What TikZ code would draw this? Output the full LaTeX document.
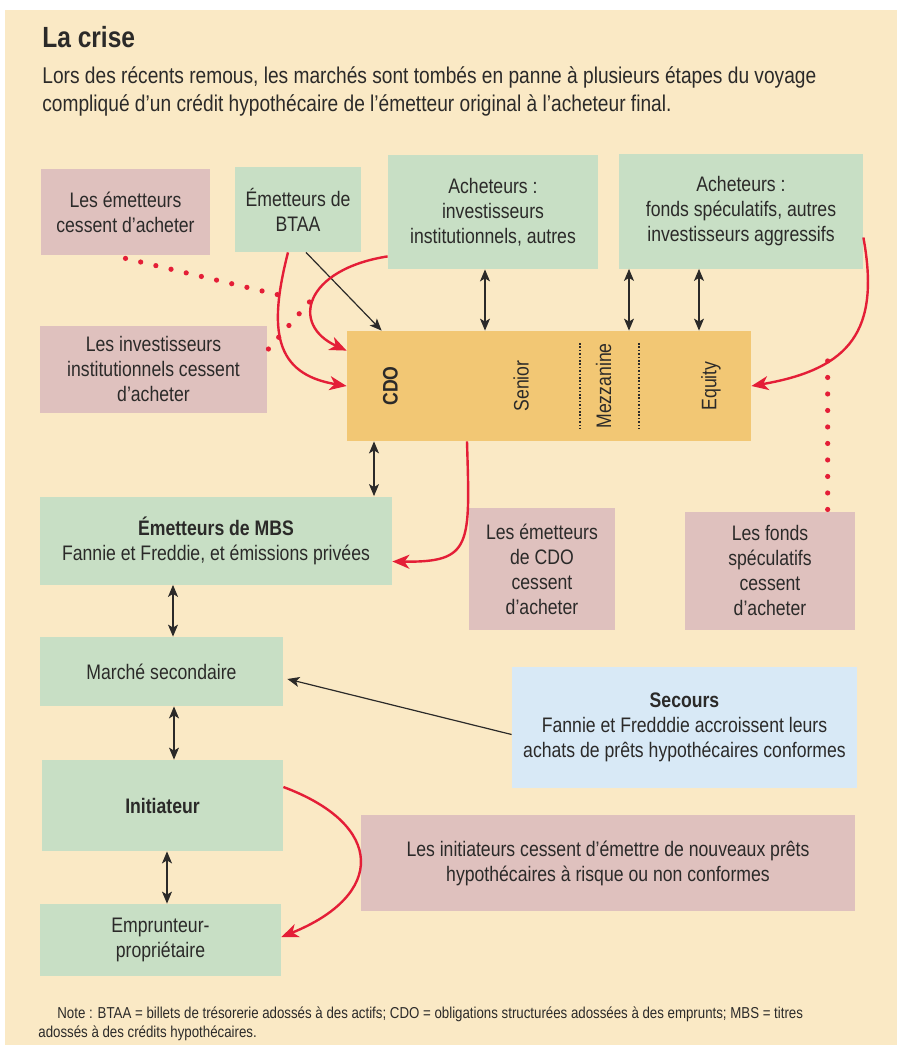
\documentclass[tikz,border=0pt]{standalone}
\usepackage{fontspec}
\setmainfont[FakeStretch=0.84]{Liberation Sans}
\usetikzlibrary{arrows.meta}

\begin{document}
\begin{tikzpicture}[x=0.5pt, y=-0.5pt,
  boite/.style={inner sep=0pt, align=center, text=colTexte,
    font=\fontsize{10.5}{12.5}\selectfont},
  vert/.style={boite, fill=colVert},
  rose/.style={boite, fill=colRose},
  fleche/.style={-{Stealth[length=6pt,width=5pt,inset=1.5pt]}, line width=0.6pt, draw=colTexte},
  doublefl/.style={{Stealth[length=6pt,width=5pt,inset=1.5pt]}-{Stealth[length=6pt,width=5pt,inset=1.5pt]},
    line width=0.6pt, draw=colTexte},
  rouge/.style={-{Stealth[length=8.5pt,width=7pt,inset=2.5pt]}, line width=1.2pt, draw=colRouge},
  pointille/.style={draw=colRouge, line width=2.6pt, line cap=round, dash pattern=on 0pt off 7.8pt}
]

% Couleurs
\definecolor{colFond}{HTML}{FAE9C5}
\definecolor{colVert}{HTML}{C8DFC5}
\definecolor{colRose}{HTML}{DFC1BE}
\definecolor{colOr}{HTML}{F2C774}
\definecolor{colBleu}{HTML}{D8E9F6}
\definecolor{colRouge}{HTML}{E41E37}
\definecolor{colTexte}{HTML}{2B2A29}

% Cadre (1 unite = 1 pixel)
\useasboundingbox (0,0) rectangle (897,1045);
\fill[colFond] (5,10) rectangle (897,1045);

% Titre
\node[anchor=base west, text=colTexte, inner sep=0pt,
  font=\bfseries\fontsize{14.6}{17}\selectfont] (titre) at (42,47) {La crise};
\node[anchor=base west, text=colTexte, inner sep=0pt, font=\fontsize{11.4}{14}\selectfont]
  (chapeauA) at (42,83) {Lors des récents remous, les marchés sont tombés en panne à plusieurs étapes du voyage};
\node[anchor=base west, text=colTexte, inner sep=0pt, font=\fontsize{11.4}{14}\selectfont]
  (chapeauB) at (42,111) {compliqué d’un crédit hypothécaire de l’émetteur original à l’acheteur final.};

% Boites du haut
\node[rose, minimum width=84.5pt, minimum height=43pt] (emetStop) at (125.5,212)
  {Les émetteurs\\cessent d’acheter};
\node[vert, minimum width=63pt, minimum height=42.5pt] (btaa) at (298,209.5)
  {Émetteurs de\\BTAA};
\node[vert, minimum width=105pt, minimum height=57pt] (achInst) at (493,212)
  {Acheteurs :\\investisseurs\\institutionnels, autres};
\node[vert, minimum width=122pt, minimum height=57.5pt] (achSpec) at (741,211)
  {Acheteurs :\\fonds spéculatifs, autres\\investisseurs aggressifs};
\node[rose, minimum width=113.5pt, minimum height=43.5pt] (invStop) at (153.5,369)
  {Les investisseurs\\institutionnels cessent\\d’acheter};

% CDO et tranches
\node[boite, fill=colOr, minimum width=202pt, minimum height=55pt] (cdo) at (549,386) {};
\node[boite, rotate=90, font=\bfseries\fontsize{10.5}{12.5}\selectfont] (cdoLbl) at (390.5,386) {CDO};
\node[boite, rotate=90] (senior) at (521,386) {Senior};
\node[boite, rotate=90] (mezz) at (603.5,386) {Mezzanine};
\node[boite, rotate=90] (equity) at (711,386) {Equity};
\draw[colTexte, line width=0.9pt, dash pattern=on 0.8pt off 0.9pt] (580,343) -- (580,429);
\draw[colTexte, line width=0.9pt, dash pattern=on 0.8pt off 0.9pt] (639,343) -- (639,429);

% Boites du milieu
\node[vert, minimum width=176pt, minimum height=44pt] (mbs) at (216,540.5)
  {\textbf{Émetteurs de MBS}\\Fannie et Freddie, et émissions privées};
\node[rose, minimum width=73pt, minimum height=61pt] (cdoStop) at (542,569)
  {Les émetteurs\\de CDO\\cessent\\d’acheter};
\node[rose, minimum width=85pt, minimum height=59pt] (fondsStop) at (770,570.5)
  {Les fonds\\spéculatifs\\cessent\\d’acheter};
\node[vert, minimum width=121.5pt, minimum height=34.5pt] (marche) at (161.5,671.5)
  {Marché secondaire};
\node[boite, fill=colBleu, minimum width=172.5pt, minimum height=60.5pt] (secours) at (684.5,727)
  {\textbf{Secours}\\Fannie et Fredddie accroissent leurs\\achats de prêts hypothécaires conformes};

% Boites du bas
\node[vert, minimum width=120.5pt, minimum height=45.5pt, font=\bfseries\fontsize{10.5}{12.5}\selectfont]
  (initiateur) at (162.5,805.5) {Initiateur};
\node[vert, minimum width=120.5pt, minimum height=36pt] (emprunteur) at (160.5,940)
  {Emprunteur-\\propriétaire};
\node[rose, minimum width=247pt, minimum height=48pt] (initStop) at (608,863)
  {Les initiateurs cessent d’émettre de nouveaux prêts\\hypothécaires à risque ou non conformes};

% Fleches noires
\draw[doublefl] ([xshift=-4pt]achInst.south) -- ([xshift=-4pt]achInst.south |- cdo.north);
\draw[doublefl] ([xshift=-56pt]achSpec.south) -- ([xshift=-56pt]achSpec.south |- cdo.north);
\draw[doublefl] ([xshift=-21pt]achSpec.south) -- ([xshift=-21pt]achSpec.south |- cdo.north);
\draw[doublefl] ([xshift=-87.5pt]cdo.south) -- ([xshift=-87.5pt]cdo.south |- mbs.north);
\draw[doublefl] ([xshift=-21.5pt]mbs.south) -- ([xshift=-21.5pt]mbs.south |- marche.north);
\draw[doublefl] ([xshift=6.25pt]marche.south) -- ([xshift=6.25pt]marche.south |- initiateur.north);
\draw[doublefl] ([xshift=2.25pt]initiateur.south) -- ([xshift=2.25pt]initiateur.south |- emprunteur.north);
\draw[fleche] ([xshift=4pt]btaa.south) -- ([xshift=17.5pt]cdo.north west);
\draw[fleche] ([yshift=-3.75pt]secours.west) -- ([xshift=2pt,yshift=-3.75pt]marche.east);

% Fleches rouges
\draw[rouge] ([xshift=-5pt]btaa.south) .. controls +(-20,78) and +(-72,-12) .. (cdo.west)
  coordinate[pos=0.2] (surBtaa);
\draw[rouge] ([yshift=6.5pt]achInst.south west) .. controls +(-83,13) and +(-57,-26) .. ([yshift=-10pt]cdo.north west)
  coordinate[pos=0.45] (surInst);
\draw[rouge] ([yshift=-13.25pt]achSpec.east) .. controls +(17,93) and +(99,-17) .. (cdo.east)
  coordinate[pos=0.67] (surSpec);
\draw[rouge] ([xshift=-41pt]cdo.south) .. controls +(3,104) and +(80,1) .. ([yshift=-10.5pt]mbs.east);
\draw[rouge] ([yshift=9.25pt]initiateur.east) .. controls +(102,38) and +(104,-42) .. ([yshift=1.5pt]emprunteur.east);

% Pointilles rouges
\draw[pointille] ([yshift=-1.5pt]emetStop.south) -- (surBtaa);
\draw[pointille] ([xshift=0.5pt,yshift=10pt]invStop.east) -- (surInst);
\draw[pointille, dash pattern=on 0pt off 8.25pt] (surSpec) -- (surSpec |- fondsStop.north);

% Note
\node[anchor=base west, text=colTexte, inner sep=0pt, font=\fontsize{7.9}{10}\selectfont] (noteA) at (57,1018)
  {Note : BTAA = billets de trésorerie adossés à des actifs; CDO = obligations structurées adossées à des emprunts; MBS = titres};
\node[anchor=base west, text=colTexte, inner sep=0pt, font=\fontsize{7.9}{10}\selectfont] (noteB) at (38,1037)
  {adossés à des crédits hypothécaires.};

\end{tikzpicture}
\end{document}
